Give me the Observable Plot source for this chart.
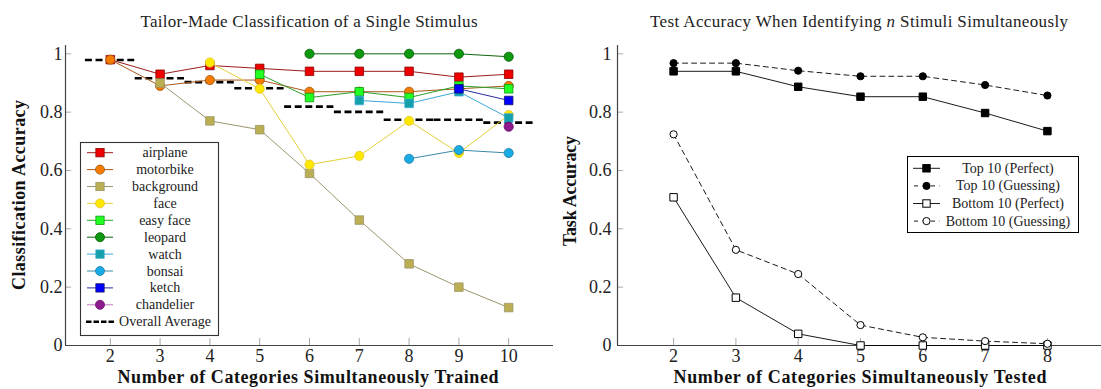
<!DOCTYPE html>
<html><head><meta charset="utf-8">
<script src="https://cdn.jsdelivr.net/npm/d3@7"></script>
<script src="https://cdn.jsdelivr.net/npm/@observablehq/plot@0.6"></script>
<style>
body{margin:0;background:#fff;}
#fig{position:relative;width:1101px;height:389px;overflow:hidden;background:#fff;}
#fig svg{position:absolute;top:0;}
#fig svg, #fig svg text{font-family:"Liberation Serif", serif !important;}
</style></head><body><div id="fig"></div>
<script>
// ---------- LEFT CHART DATA ----------
const nTrained   = [2, 3, 4, 5, 6, 7, 8, 9, 10];
const airplane   = [0.98, 0.93, 0.96, 0.95, 0.94, 0.94, 0.94, 0.92, 0.93];
const motorbike  = [0.98, 0.89, 0.91, 0.91, 0.87, 0.87, 0.87, 0.88, 0.89];
const background = [null, 0.90, 0.77, 0.74, 0.59, 0.43, 0.28, 0.20, 0.13];
const face       = [null, null, 0.97, 0.88, 0.62, 0.65, 0.77, 0.66, 0.79];
const easyFace   = [null, null, null, 0.93, 0.85, 0.87, 0.85, 0.89, 0.88];
const leopard    = [null, null, null, null, 1.00, 1.00, 1.00, 1.00, 0.99];
const watch      = [null, null, null, null, null, 0.84, 0.83, 0.87, 0.78];
const bonsai     = [null, null, null, null, null, null, 0.64, 0.67, 0.66];
const ketch      = [null, null, null, null, null, null, null, 0.88, 0.84];
const chandelier = [null, null, null, null, null, null, null, null, 0.75];
const overallAverage = [0.979, 0.916, 0.903, 0.882, 0.819, 0.801, 0.774, 0.774, 0.764];
const seriesNames = ["airplane", "motorbike", "background", "face", "easy face", "leopard", "watch", "bonsai", "ketch", "chandelier"];
const seriesValues = [airplane, motorbike, background, face, easyFace, leopard, watch, bonsai, ketch, chandelier];
const averageLabel = "Overall Average";
const yTicks = [0, 0.2, 0.4, 0.6, 0.8, 1];

// ---------- RIGHT CHART DATA ----------
const nTested          = [2, 3, 4, 5, 6, 7, 8];
const top10Perfect     = [0.940, 0.940, 0.887, 0.853, 0.853, 0.797, 0.735];
const top10Guessing    = [0.968, 0.968, 0.942, 0.923, 0.923, 0.893, 0.857];
const bottom10Perfect  = [0.508, 0.164, 0.040, 0.000, 0.000, 0.000, 0.000];
const bottom10Guessing = [0.724, 0.328, 0.245, 0.070, 0.028, 0.015, 0.006];
const rightNames  = ["Top 10 (Perfect)", "Top 10 (Guessing)", "Bottom 10 (Perfect)", "Bottom 10 (Guessing)"];
const rightValues = [top10Perfect, top10Guessing, bottom10Perfect, bottom10Guessing];

// ---------- TEXT ----------
const leftTitle = "Tailor-Made Classification of a Single Stimulus";
const rightTitleA = "Test Accuracy When Identifying ", rightTitleN = "n", rightTitleB = " Stimuli Simultaneously";
const leftXLabel = "Number of Categories Simultaneously Trained";
const rightXLabel = "Number of Categories Simultaneously Tested";
const leftYLabel = "Classification Accuracy";
const rightYLabel = "Task Accuracy";

// ---------- STYLES ----------
const lineColors   = ["#9b1c1c", "#a8581a", "#9c9670", "#e6cf3a", "#2aa02a", "#0b650b", "#3aa8d8", "#3a88a8", "#2a2a9c", "#c478c4"];
const markerFills  = ["#ee0000", "#f57c00", "#bcae52", "#ffe800", "#22ff22", "#0e9a0e", "#14a0aa", "#18ace6", "#0000ff", "#8e1a8e"];
const markerEdges  = ["#8b0000", "#a0520a", "#9a9468", "#e0c830", "#119911", "#055505", "#3aa8d8", "#2a7ea0", "#10106a", "#6a0a6a"];
const markerShapes = ["square", "circle", "square", "circle", "square", "circle", "square", "circle", "square", "circle"];
const rShapes = ["square", "circle", "square", "circle"];
const rFills  = ["#000", "#000", "#fff", "#fff"];
const rDash   = [null, "5,4", null, "5,4"];

const FONT = "Liberation Serif, serif";
const fig = document.getElementById("fig");

// ---------- LEFT PLOT ----------
const xDomL = [1.1, 10.9], yDom = [0, 1.0285];
const avgRows = nTrained.map((n, i) => ({n, v: overallAverage[i]}));
const leftMarks = [
  Plot.axisX({ticks: nTrained, tickFormat: d => String(d), tickSize: -7, tickPadding: 10.5, color: "#222", stroke: "#aaa", label: null}),
  Plot.axisY({ticks: yTicks, tickFormat: d => String(d), tickSize: -6, tickPadding: 9, color: "#222", stroke: "#aaa", label: null}),
  Plot.ruleY([yDom[0]], {stroke: "#444", strokeWidth: 1.2}),
  Plot.ruleX([xDomL[0]], {stroke: "#444", strokeWidth: 1.2}),
  Plot.ruleY(avgRows, {y: "v", x1: d => d.n - 0.5, x2: d => d.n + 0.49, stroke: "#000", strokeWidth: 2.6, strokeDasharray: "7,3.6"})
];
seriesNames.forEach((name, s) => {
  const rows = nTrained.map((n, i) => ({n, v: seriesValues[s][i]})).filter(d => d.v != null);
  leftMarks.push(Plot.line(rows, {x: "n", y: "v", stroke: lineColors[s], strokeWidth: 1}));
  leftMarks.push(Plot.dot(rows, {x: "n", y: "v", symbol: markerShapes[s], r: markerShapes[s] === "square" ? 4.8 : 4.6,
    fill: markerFills[s], stroke: markerEdges[s], strokeWidth: 0.8}));
});
const left = Plot.plot({
  width: 560, height: 389, marginLeft: 65, marginRight: 7, marginTop: 45, marginBottom: 44,
  style: {fontFamily: FONT, fontSize: "18px", background: "transparent", overflow: "visible"},
  x: {domain: xDomL}, y: {domain: yDom},
  marks: leftMarks
});
left.style.left = "0px";
fig.appendChild(left);

// ---------- RIGHT PLOT ----------
const xDomR = [1.1, 8.9];
const rightMarks = [
  Plot.axisX({ticks: nTested, tickFormat: d => String(d), tickSize: -7, tickPadding: 10.5, color: "#222", stroke: "#aaa", label: null}),
  Plot.axisY({ticks: yTicks, tickFormat: d => String(d), tickSize: -6, tickPadding: 12, color: "#222", stroke: "#aaa", label: null}),
  Plot.ruleY([yDom[0]], {stroke: "#444", strokeWidth: 1.2}),
  Plot.ruleX([xDomR[0]], {stroke: "#444", strokeWidth: 1.2})
];
rightNames.forEach((name, s) => {
  const rows = nTested.map((n, i) => ({n, v: rightValues[s][i]}));
  rightMarks.push(Plot.line(rows, {x: "n", y: "v", stroke: "#000", strokeWidth: 0.9, strokeDasharray: rDash[s]}));
  rightMarks.push(Plot.dot(rows, {x: "n", y: "v", symbol: rShapes[s], r: rShapes[s] === "square" ? 4.2 : 3.6,
    fill: rFills[s], stroke: "#000", strokeWidth: 1}));
});
const right = Plot.plot({
  width: 545, height: 389, marginLeft: 57, marginRight: 2, marginTop: 45, marginBottom: 44,
  style: {fontFamily: FONT, fontSize: "18px", background: "transparent", overflow: "visible"},
  x: {domain: xDomR}, y: {domain: yDom},
  marks: rightMarks
});
right.style.left = "560px";
fig.appendChild(right);

// ---------- OVERLAY: titles, labels, legends ----------
const ov = d3.select(fig).append("svg").attr("width", 1101).attr("height", 389)
  .style("left", "0px").style("font-family", FONT);

ov.append("text").attr("x", 309).attr("y", 27).attr("text-anchor", "middle").attr("font-size", 17)
  .attr("fill", "#222").attr("textLength", 337).text(leftTitle);
const rt = ov.append("text").attr("x", 859).attr("y", 27).attr("text-anchor", "middle").attr("font-size", 17)
  .attr("fill", "#222").attr("textLength", 418);
rt.append("tspan").text(rightTitleA);
rt.append("tspan").attr("font-style", "italic").text(rightTitleN);
rt.append("tspan").text(rightTitleB);

ov.append("text").attr("x", 308).attr("y", 383).attr("text-anchor", "middle").attr("font-size", 18)
  .attr("font-weight", "bold").attr("fill", "#111").attr("textLength", 381).text(leftXLabel);
ov.append("text").attr("x", 860).attr("y", 383).attr("text-anchor", "middle").attr("font-size", 18)
  .attr("font-weight", "bold").attr("fill", "#111").attr("textLength", 373).text(rightXLabel);

ov.append("text").attr("transform", "translate(25,195) rotate(-90)").attr("text-anchor", "middle").attr("font-size", 18)
  .attr("font-weight", "bold").attr("fill", "#111").attr("textLength", 190).text(leftYLabel);
ov.append("text").attr("transform", "translate(576,191) rotate(-90)").attr("text-anchor", "middle").attr("font-size", 18)
  .attr("font-weight", "bold").attr("fill", "#111").attr("textLength", 110).text(rightYLabel);

function marker(g, shape, cx, cy, size, fill, stroke, sw) {
  if (shape === "square") g.append("rect").attr("x", cx - size / 2).attr("y", cy - size / 2).attr("width", size).attr("height", size)
    .attr("fill", fill).attr("stroke", stroke).attr("stroke-width", sw);
  else g.append("circle").attr("cx", cx).attr("cy", cy).attr("r", size / 2).attr("fill", fill).attr("stroke", stroke).attr("stroke-width", sw);
}

// left legend
const lg = ov.append("g");
lg.append("rect").attr("x", 80.5).attr("y", 142.5).attr("width", 138).attr("height", 193)
  .attr("fill", "#fff").attr("stroke", "#333").attr("stroke-width", 1.1);
seriesNames.forEach((name, s) => {
  const y = 152.7 + 16.9 * s;
  lg.append("line").attr("x1", 87).attr("x2", 113).attr("y1", y).attr("y2", y).attr("stroke", lineColors[s]).attr("stroke-width", 1);
  marker(lg, markerShapes[s], 100, y, markerShapes[s] === "square" ? 8.3 : 9, markerFills[s], markerEdges[s], 0.8);
  lg.append("text").attr("x", 165).attr("y", y + 4.5).attr("text-anchor", "middle").attr("font-size", 14).attr("fill", "#222").text(name);
});
{
  const y = 152.7 + 16.9 * seriesNames.length;
  lg.append("line").attr("x1", 86).attr("x2", 114).attr("y1", y).attr("y2", y).attr("stroke", "#000")
    .attr("stroke-width", 2.6).attr("stroke-dasharray", "5.5,2");
  lg.append("text").attr("x", 119).attr("y", y + 4.5).attr("font-size", 14).attr("fill", "#222")
    .attr("textLength", 92).text(averageLabel);
}

// right legend
const rg = ov.append("g");
rg.append("rect").attr("x", 907.5).attr("y", 156.5).attr("width", 171).attr("height", 76)
  .attr("fill", "#fff").attr("stroke", "#000").attr("stroke-width", 1);
rightNames.forEach((name, s) => {
  const y = 168.3 + 17.6 * s;
  const ln = rg.append("line").attr("x1", 913).attr("x2", 940).attr("y1", y).attr("y2", y).attr("stroke", "#000").attr("stroke-width", 0.9);
  if (rDash[s]) ln.attr("stroke-dasharray", "4,4.5").attr("stroke-dashoffset", -1);
  marker(rg, rShapes[s], 926.5, y, rShapes[s] === "square" ? 7.4 : 7.2, rFills[s], "#000", 1);
  rg.append("text").attr("x", 1008).attr("y", y + 4.5).attr("text-anchor", "middle").attr("font-size", 14).attr("fill", "#222").text(name);
});
</script></body></html>
